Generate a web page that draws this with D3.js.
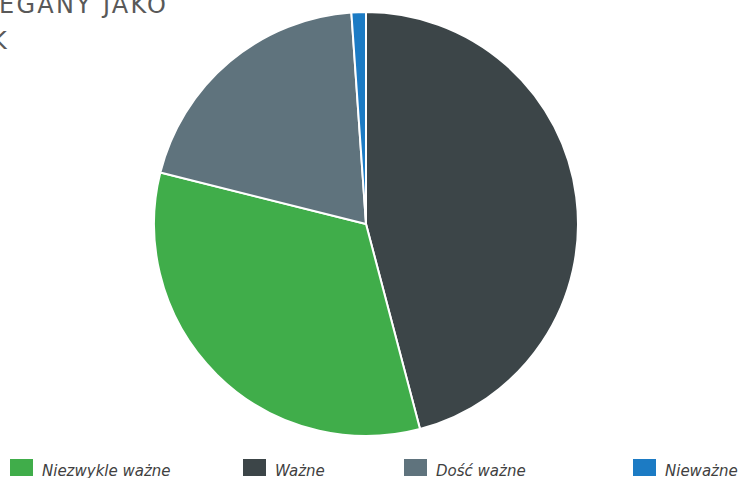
<!DOCTYPE html>
<html>
<head>
<meta charset="utf-8">
<script src="https://cdn.jsdelivr.net/npm/d3@7"></script>
<style>
  body { margin:0; background:#fff; }
  svg { display:block; }
  .title { font-family:"DejaVu Sans", sans-serif; fill:#595959; }
  .legend text { font-family:"DejaVu Sans", sans-serif; font-style:italic; fill:#404040; font-size:15px; }
</style>
</head>
<body>
<svg width="741" height="478"></svg>
<script>
// slices in drawing order (clockwise from 12 o'clock)
var categories = ["Ważne","Niezwykle ważne","Dość ważne","Nieważne"];
var values = [45.9,33.0,20.0,1.1];
var colours = ["#3c4548","#40ad4a","#5f737d","#1c7bc4"];

// legend order
var legendItems = ["Niezwykle ważne","Ważne","Dość ważne","Nieważne"];
var legendX = [10,243,404,633];

var titleLines = ["EGANY JAKO","K"];

var svg = d3.select("svg");

var colour = d3.scaleOrdinal()
    .domain(categories)
    .range(colours);

var pie = d3.pie()
    .sort(null)
    .value(function(d,i){ return values[i]; });

var arc = d3.arc()
    .innerRadius(0)
    .outerRadius(212);

var chart = svg.append("g")
    .attr("transform","translate(366,224)");

chart.selectAll("path")
    .data(pie(categories))
    .enter()
    .append("path")
    .attr("d",arc)
    .attr("fill",function(d){ return colour(d.data); })
    .attr("stroke","#fff")
    .attr("stroke-width",2)
    .attr("stroke-linejoin","round");

// title (cut off at the left edge as in the source)
svg.append("text")
    .attr("class","title")
    .attr("x",-1)
    .attr("y",13)
    .attr("font-size",24)
    .attr("textLength",167)
    .attr("lengthAdjust","spacing")
    .text(titleLines[0]);
svg.append("text")
    .attr("class","title")
    .attr("x",-9)
    .attr("y",49)
    .attr("font-size",24)
    .text(titleLines[1]);

var legend = svg.append("g")
    .attr("class","legend")
    .selectAll("g")
    .data(legendItems)
    .enter()
    .append("g")
    .attr("transform",function(d,i){ return "translate("+legendX[i]+",459)"; });

legend.append("rect")
    .attr("width",23)
    .attr("height",17)
    .attr("fill",function(d){ return colour(d); });

legend.append("text")
    .attr("x",32)
    .attr("y",17)
    .text(function(d){ return d; });
</script>
</body>
</html>
